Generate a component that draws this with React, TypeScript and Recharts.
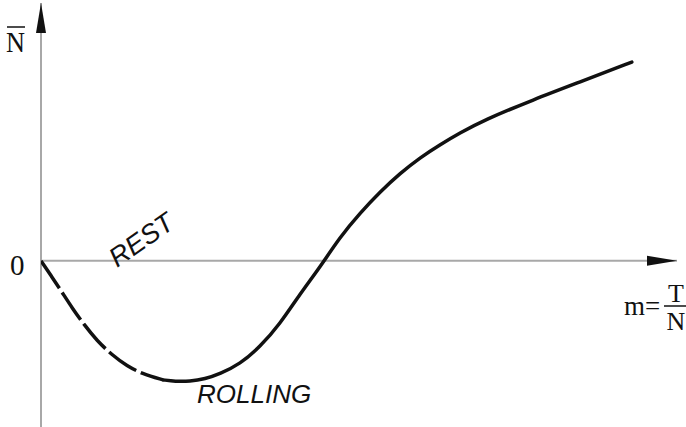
import { LineChart, Line, XAxis, YAxis, ReferenceLine, ReferenceDot } from "recharts";

// m = T/N (horizontal) and N-bar (vertical) in arbitrary units
const restM = [0, 0.17, 0.33, 0.49, 0.68, 0.88, 1.12, 1.35, 1.6, 1.92];
const restN = [0, -0.32, -0.63, -0.95, -1.29, -1.61, -1.9, -2.12, -2.28, -2.4];

const rollingM = [1.92, 2.11, 2.34, 2.58, 2.81, 3.13, 3.44, 3.76, 4.07, 4.39, 4.7, 5.02, 5.33, 5.65, 5.96, 6.27, 6.59, 6.95, 7.74, 8.52, 9.29];
const rollingN = [-2.4, -2.43, -2.43, -2.38, -2.28, -2.08, -1.74, -1.27, -0.67, -0.12, 0.48, 0.97, 1.39, 1.77, 2.08, 2.34, 2.58, 2.83, 3.25, 3.63, 4.01];

const X_MAX = 10;
const Y_MIN = -3.35;
const Y_MAX = 5.2;

const restData = restM.map((m, i) => ({ m, n: restN[i] }));
const rollingData = rollingM.map((m, i) => ({ m, n: rollingN[i] }));

const INK = "#111";
const AXIS = "#a8a8a8";
const serif = "'Liberation Serif', 'Times New Roman', serif";
const sans = "'Liberation Sans', Arial, sans-serif";

function UpArrow({ cx, cy }: { cx?: number; cy?: number }) {
  if (cx == null || cy == null) return null;
  return <polygon points={`${cx},${cy} ${cx - 5},${cy + 30} ${cx + 5},${cy + 30}`} fill={INK} />;
}

function RightArrow({ cx, cy }: { cx?: number; cy?: number }) {
  if (cx == null || cy == null) return null;
  return <polygon points={`${cx},${cy} ${cx - 30},${cy - 5} ${cx - 30},${cy + 5}`} fill={INK} />;
}

export default function App() {
  return (
    <div style={{ position: "absolute", left: 0, top: 0, width: 686, height: 427, background: "#fff" }}>
      <LineChart width={686} height={427} margin={{ top: 3, right: 9, bottom: 0, left: 41 }}>
        <XAxis type="number" dataKey="m" domain={[0, X_MAX]} hide allowDataOverflow />
        <YAxis type="number" dataKey="n" domain={[Y_MIN, Y_MAX]} hide allowDataOverflow />
        <ReferenceLine x={0} stroke={AXIS} strokeWidth={2} />
        <ReferenceLine y={0} stroke={AXIS} strokeWidth={2} />
        <Line
          data={restData}
          dataKey="n"
          type="basis"
          stroke={INK}
          strokeWidth={3.5}
          strokeDasharray="33 5"
          dot={false}
          activeDot={false}
          isAnimationActive={false}
        />
        <Line
          data={rollingData}
          dataKey="n"
          type="basis"
          stroke={INK}
          strokeWidth={3.5}
          strokeLinecap="round"
          dot={false}
          activeDot={false}
          isAnimationActive={false}
        />
        <ReferenceDot x={0} y={Y_MAX} ifOverflow="visible" shape={UpArrow} />
        <ReferenceDot x={X_MAX} y={0} ifOverflow="visible" shape={RightArrow} />
      </LineChart>
      <svg
        width={686}
        height={427}
        style={{ position: "absolute", left: 0, top: 0, pointerEvents: "none" }}
      >
        <line x1={7} x2={25} y1={27} y2={27} stroke={INK} strokeWidth={1.5} />
        <text x={6} y={52} fontFamily={serif} fontSize={29} fill={INK} textLength={19} lengthAdjust="spacingAndGlyphs">
          N
        </text>
        <text x={10} y={275} fontFamily={serif} fontSize={29} fill={INK}>
          0
        </text>
        <text x={624} y={315} fontFamily={serif} fontSize={27} fill={INK}>
          m=
        </text>
        <text x={676} y={302} fontFamily={serif} fontSize={26} fill={INK} textAnchor="middle">
          T
        </text>
        <line x1={664} x2={686} y1={306} y2={306} stroke={INK} strokeWidth={1.5} />
        <text x={676} y={330} fontFamily={serif} fontSize={26} fill={INK} textAnchor="middle">
          N
        </text>
        <text
          x={117}
          y={268}
          fontFamily={sans}
          fontStyle="italic"
          fontSize={27}
          fill={INK}
          transform="rotate(-35 117 268)"
        >
          REST
        </text>
        <text x={197} y={403} fontFamily={sans} fontStyle="italic" fontSize={26} fill={INK}>
          ROLLING
        </text>
      </svg>
    </div>
  );
}
